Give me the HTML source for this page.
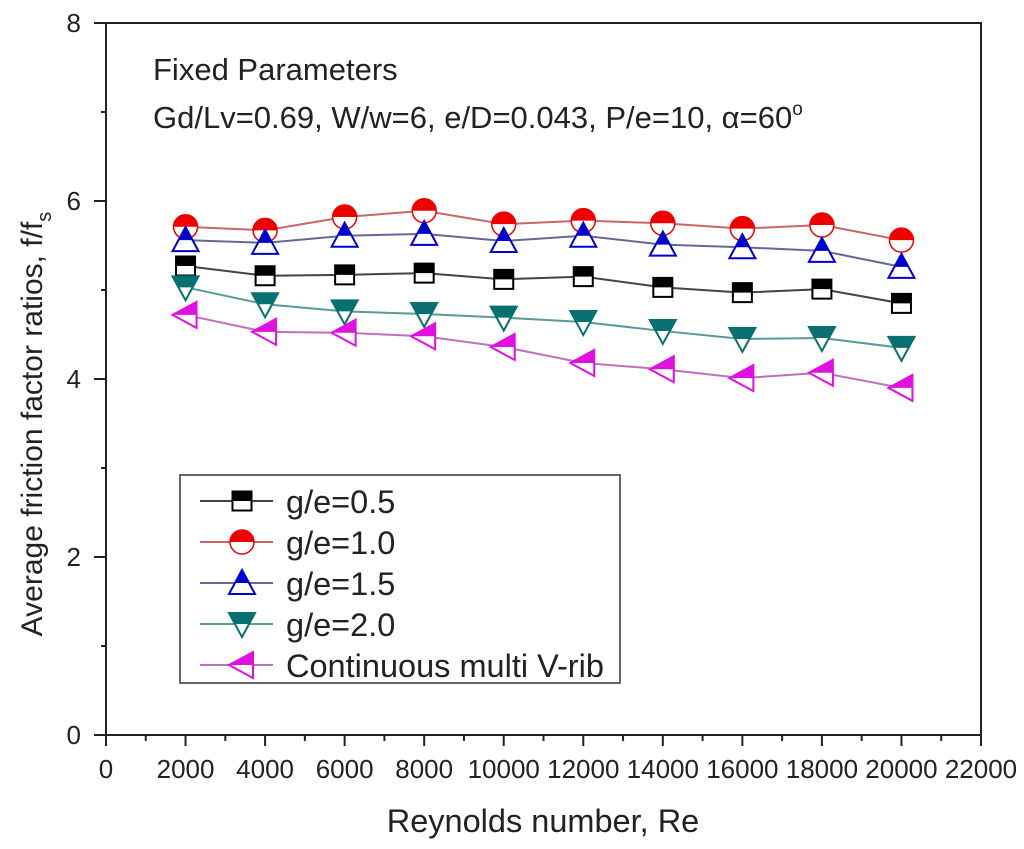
<!DOCTYPE html>
<html><head><meta charset="utf-8"><style>
body{margin:0;background:#fff;}
svg{display:block;font-family:"Liberation Sans",Arial,sans-serif;}
</style></head><body>
<svg id="chart" width="1024" height="849" viewBox="0 0 1024 849">
<rect x="0" y="0" width="1024" height="849" fill="#fff"/>
<g id="axes"></g>
<g id="series"></g>
<g id="legend"></g>
<text x="153" y="80" font-size="31" fill="#222">Fixed Parameters</text>
<text x="153" y="128" font-size="31" fill="#222">Gd/Lv=0.69, W/w=6, e/D=0.043, P/e=10, α=60<tspan dy="-13" font-size="19">o</tspan></text>
<text x="543" y="832" font-size="32.5" text-anchor="middle" fill="#222">Reynolds number, Re</text>
<text transform="translate(42,424) rotate(-90)" font-size="30" text-anchor="middle" fill="#222">Average friction factor ratios, f/f<tspan dy="9" font-size="20">s</tspan></text>
</svg>
<script>
const reynolds=[2000,4000,6000,8000,10000,12000,14000,16000,18000,20000];
const ge05=[5.27,5.16,5.17,5.19,5.12,5.15,5.03,4.97,5.01,4.85];
const ge10=[5.71,5.67,5.82,5.89,5.74,5.78,5.75,5.69,5.73,5.56];
const ge15=[5.56,5.53,5.61,5.63,5.55,5.61,5.51,5.48,5.44,5.26];
const ge20=[5.03,4.84,4.76,4.73,4.69,4.64,4.54,4.45,4.46,4.35];
const contV=[4.72,4.53,4.52,4.48,4.36,4.18,4.11,4.01,4.07,3.90];
const xTicks=[0,2000,4000,6000,8000,10000,12000,14000,16000,18000,20000,22000];
const yTicks=[0,2,4,6,8];
const seriesNames=["g/e=0.5","g/e=1.0","g/e=1.5","g/e=2.0","Continuous multi V-rib"];

const NS="http://www.w3.org/2000/svg";
const X0=106,X1=981,Y0=735,Y1=23;
const sx=v=>X0+(v-0)/22000*(X1-X0);
const sy=v=>Y0-(v-0)/8*(Y0-Y1);
function mk(tag,attrs,parent){const e=document.createElementNS(NS,tag);for(const k in attrs)e.setAttribute(k,attrs[k]);parent.appendChild(e);return e;}
const axes=document.getElementById('axes');
const frame=mk('rect',{x:X0,y:Y1,width:X1-X0,height:Y0-Y1,fill:'none',stroke:'#222','stroke-width':2},axes);


for(let v=0;v<=22000;v+=1000){
  const major=v%2000===0;
  const t=mk('line',{x1:sx(v),x2:sx(v),y1:Y0,y2:Y0+(major?11:6),stroke:'#222','stroke-width':2},axes);
  
  
}
xTicks.forEach(v=>{
  const t=mk('text',{x:sx(v),y:Y0+43,'font-size':26,'text-anchor':'middle',fill:'#222'},axes);
  t.textContent=v;
  
  
});
for(let v=0;v<=8;v+=1){
  const major=v%2===0;
  const t=mk('line',{x1:X0-(major?12:5),x2:X0,y1:sy(v),y2:sy(v),stroke:'#222','stroke-width':2},axes);
  
  
}
yTicks.forEach(v=>{
  const t=mk('text',{x:X0-25,y:sy(v)+9,'font-size':26,'text-anchor':'end',fill:'#222'},axes);
  t.textContent=v;
  
  
});

const styles=[
 {c:'#000',line:'#444',shape:'square'},
 {c:'#e00',line:'#c66',shape:'circle'},
 {c:'#00c',line:'#669',shape:'up'},
 {c:'#087070',line:'#5a9a9a',shape:'down'},
 {c:'#e010e0',line:'#c070c0',shape:'left'}];
const data=[ge05,ge10,ge15,ge20,contV];
let clipId=0;
function marker(g,x,y,st){
  const s=11;let d;
  if(st.shape==='square'){const q=9.5;d=`M${x-q},${y-q}h${2*q}v${2*q}h${-2*q}z`;}
  else if(st.shape==='up')d=`M${x},${y-s-2}L${x+s+2},${y+s}L${x-s-2},${y+s}z`;
  else if(st.shape==='down')d=`M${x-s-2},${y-s}L${x+s+2},${y-s}L${x},${y+s+2}z`;
  else if(st.shape==='left')d=`M${x-s-2},${y}L${x+s},${y-s-2}L${x+s},${y+s+2}z`;
  const id='cl'+(clipId++);
  const cp=mk('clipPath',{id:id},g);mk('rect',{x:x-20,y:y-20,width:40,height:20},cp);
  if(st.shape==='circle'){
    mk('circle',{cx:x,cy:y,r:s+1,fill:'#fff',stroke:st.c,'stroke-width':1.5},g);
    mk('circle',{cx:x,cy:y,r:s+1,fill:st.c,'clip-path':`url(#${id})`},g);
  }else{
    mk('path',{d:d,fill:'#fff',stroke:st.c,'stroke-width':2},g);
    mk('path',{d:d,fill:st.c,'clip-path':`url(#${id})`},g);
  }
}
const sg=document.getElementById('series');
data.forEach((vals,i)=>{
  const g=mk('g',{},sg);
  
  
  const pts=vals.map((v,j)=>sx(reynolds[j])+','+sy(v)).join(' ');
  const pl=mk('polyline',{points:pts,fill:'none',stroke:styles[i].line,'stroke-width':2},g);
  
  
  vals.forEach((v,j)=>{
    const mg=mk('g',{},g);
    
    
    marker(mg,sx(reynolds[j]),sy(v),styles[i]);
  });
});
const lg=document.getElementById('legend');


mk('rect',{x:180,y:475,width:440,height:208,fill:'#fff',stroke:'#666','stroke-width':2},lg);
seriesNames.forEach((n,i)=>{
  const y=501+i*41;
  const e=mk('g',{},lg);
  
  
  mk('line',{x1:200,x2:273,y1:y,y2:y,stroke:styles[i].line,'stroke-width':2},e);
  marker(e,242,y,styles[i]);
  const t=mk('text',{x:286,y:y+12,'font-size':32.5,fill:'#222'},e);
  t.textContent=n;
});
</script>
</body></html>
